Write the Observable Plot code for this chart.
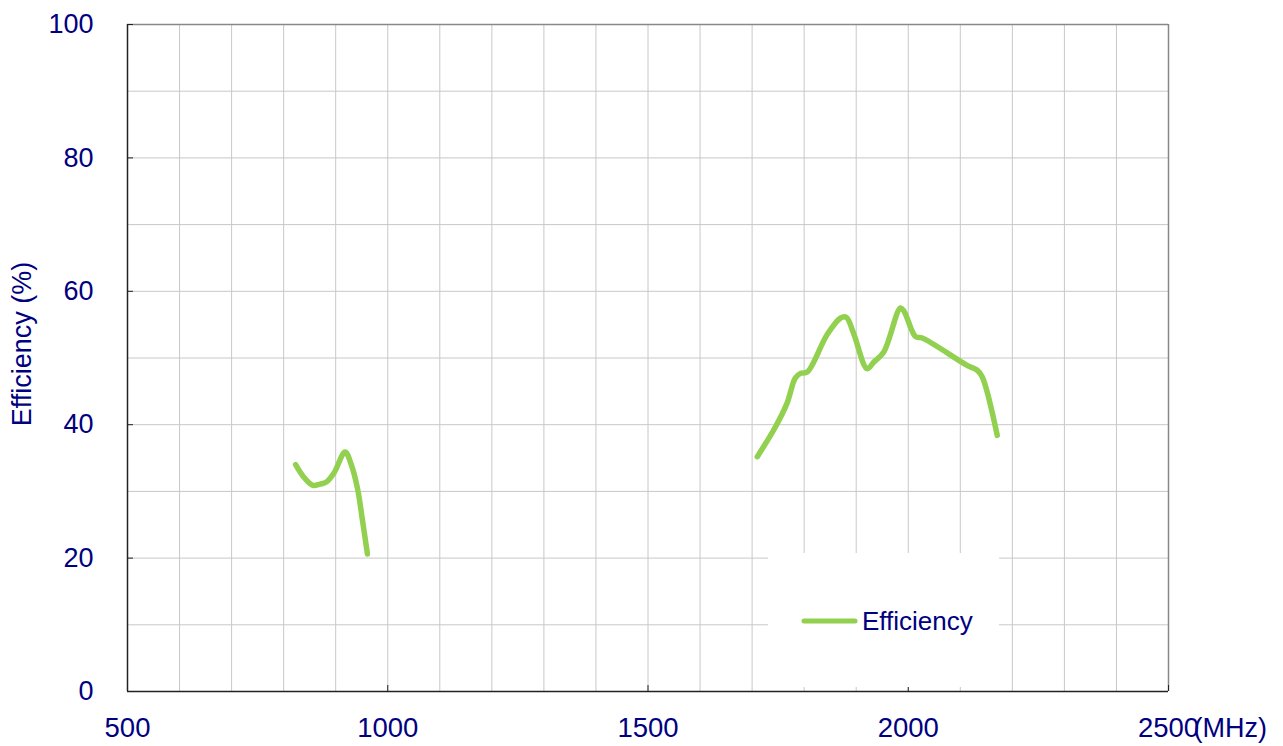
<!DOCTYPE html>
<html>
<head>
<meta charset="utf-8">
<script src="https://cdn.jsdelivr.net/npm/d3@7"></script>
<script src="https://cdn.jsdelivr.net/npm/@observablehq/plot@0.6"></script>
<style>
  html, body { margin: 0; padding: 0; background: #fff; }
  #wrap { position: relative; width: 1283px; height: 746px; }
  #legend {
    position: absolute; left: 768px; top: 553px; width: 231px; height: 134px;
    background: #fff; font-family: "Liberation Sans", Arial, sans-serif;
  }
  #legend svg { position: absolute; left: 0; top: 0; }
</style>
</head>
<body>
<div id="wrap"></div>
<script>
// ---- data ----
const lowFreq  = [823, 838, 856, 870, 882, 897, 918, 930, 942, 951, 961];
const lowEff   = [34.0, 32.2, 30.9, 31.1, 31.4, 32.8, 35.9, 34.0, 30.4, 25.9, 20.6];
const highFreq = [1710, 1745, 1767, 1783, 1793, 1806, 1844, 1870, 1881, 1895, 1921, 1934, 1953, 1985, 1992, 2014, 2027, 2113, 2132, 2142, 2171];
const highEff  = [35.2, 39.7, 43.2, 47.0, 47.7, 47.9, 53.5, 56.0, 56.1, 53.7, 48.4, 49.4, 50.9, 57.5, 57.0, 53.2, 53.0, 48.9, 48.2, 47.2, 38.4];
const xTicks = [500, 1000, 1500, 2000, 2500];
const yTicks = [0, 20, 40, 60, 80, 100];
const xGrid = [600, 700, 800, 900, 1000, 1100, 1200, 1300, 1400, 1500, 1600, 1700, 1800, 1900, 2000, 2100, 2200, 2300, 2400];
const yGrid = [10, 20, 30, 40, 50, 60, 70, 80, 90];
const seriesName = "Efficiency";
const yTitle = "Efficiency (%)";
const xUnit = "(MHz)";

const data = [
  ...lowFreq.map((f, i) => ({band: "low", f, e: lowEff[i]})),
  ...highFreq.map((f, i) => ({band: "high", f, e: highEff[i]}))
];

const navy = "#000080";
const green = "#92D050";
const font = "'Liberation Sans', Arial, sans-serif";

const chart = Plot.plot({
  width: 1283,
  height: 746,
  marginLeft: 127,
  marginRight: 115,
  marginTop: 24,
  marginBottom: 55,
  style: {fontFamily: font, fontSize: "27px", color: navy, background: "#fff", overflow: "visible"},
  x: {domain: [500, 2500], axis: null},
  y: {domain: [0, 100], axis: null},
  marks: [
    Plot.ruleX(xGrid, {stroke: "#c8c8c8", strokeWidth: 1}),
    Plot.ruleY(yGrid, {stroke: "#c8c8c8", strokeWidth: 1}),
    Plot.ruleX([2500], {stroke: "#888", strokeWidth: 1.5}),
    Plot.ruleY([100], {stroke: "#888", strokeWidth: 1.5}),
    Plot.ruleX([500], {stroke: "#222", strokeWidth: 1.5}),
    Plot.ruleY([0], {stroke: "#222", strokeWidth: 1.5}),
    Plot.axisX({ticks: xTicks, tickSize: -6, stroke: "#222", tickFormat: () => "", anchor: "bottom", label: null}),
    Plot.axisY({ticks: yTicks, tickSize: -6, stroke: "#222", tickFormat: () => "", anchor: "left", label: null}),
    Plot.axisX({ticks: xTicks, tickSize: 0, tickPadding: 26, fill: navy, fontSize: 27.5, anchor: "bottom", label: null, tickFormat: d => String(d)}),
    Plot.axisY({ticks: yTicks, tickSize: 0, tickPadding: 34, fill: navy, fontSize: 27, anchor: "left", label: null, tickFormat: d => String(d)}),
    Plot.line(data, {x: "f", y: "e", z: "band", stroke: green, strokeWidth: 5.5, curve: "catmull-rom", strokeLinecap: "round", strokeLinejoin: "round"}),
    Plot.text([xUnit], {frameAnchor: "bottom-right", text: d => d, textAnchor: "start", lineAnchor: "top", dx: 25, dy: 26, fill: navy, fontSize: 27}),
    Plot.text([yTitle], {frameAnchor: "left", text: d => d, rotate: -90, textAnchor: "middle", lineAnchor: "middle", dx: -105, dy: -14, fill: navy, fontSize: 27})
  ]
});

const wrap = document.getElementById("wrap");
wrap.appendChild(chart);

const legend = document.createElement("div");
legend.id = "legend";
legend.innerHTML = `<svg width="231" height="134">
  <line x1="36" y1="68" x2="87" y2="68" stroke="${green}" stroke-width="5" stroke-linecap="round"></line>
  <text x="94" y="77" fill="${navy}" font-size="26" font-family="${font.replace(/'/g, "")}">${seriesName}</text>
</svg>`;
wrap.appendChild(legend);
</script>
</body>
</html>
